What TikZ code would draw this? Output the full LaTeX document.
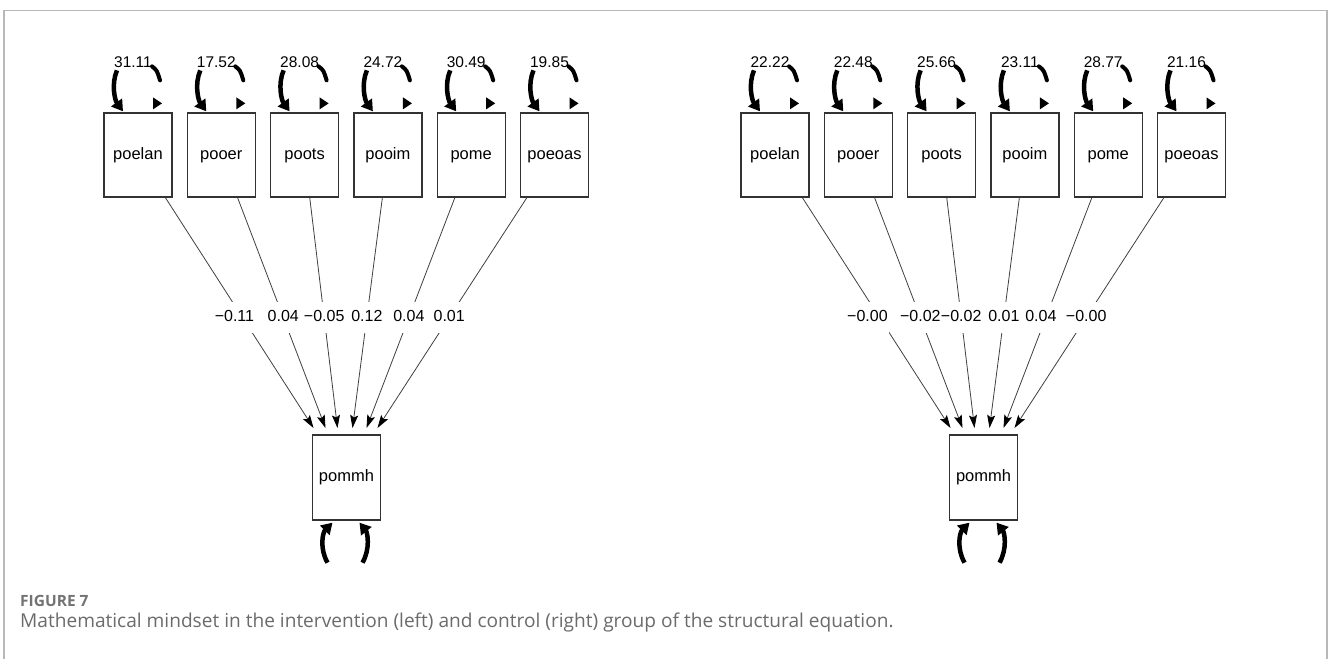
\documentclass[tikz,border=0pt]{standalone}
\usepackage{fontspec}
\setmainfont{Liberation Sans}
\newfontfamily\capfont{Open Sans}
\usetikzlibrary{arrows.meta,calc}
\tikzset{
  var/.style={draw=black!80,line width=1.3pt,minimum width=68pt,minimum height=84pt,inner sep=0pt,fill=white,text height=12pt,text depth=3.5pt,font=\fontsize{16.5}{18}\selectfont},
  semedge/.style={draw=black!75,line width=0.8pt,-{Stealth[length=13pt,width=8pt,inset=2.5pt,fill=black,black]}},
  coef/.style={fill=white,inner xsep=1pt,inner ysep=9pt,text height=11pt,text depth=2pt,font=\fontsize{16}{17}\selectfont},
  vlab/.style={inner sep=0pt,font=\fontsize{15.5}{17}\selectfont},
  loophead/.style={line width=4.5pt,-{Triangle[length=11pt,width=13pt]}},
  looparc/.style={line width=4pt,line cap=round},
}
\newcommand\semgroup[4]{%
  \node[var,minimum height=85pt,minimum width=68.5pt] (#1m) at (#3,477.5) {pommh};
  \foreach \i/\nm/\vv/\cf/\sh/\off in {#4} {
    \pgfmathsetmacro\cx{#2+83.3*(\i-1)}
    \node[var] (#1\i) at (\cx,155) {\nm};
    \coordinate (#1t\i) at (#3+\off,428);
    \draw[semedge] (#1\i) -- node[coef,pos=0.52,xshift=\sh pt] (#1c\i) {\cf} (#1t\i);
    \draw[loophead] ($(#1\i.north)+(-21,-42)$) .. controls ($(#1\i.north)+(-27,-28)$) and ($(#1\i.north)+(-23,-12)$) .. ($(#1\i.north)+(-15,-1)$);
    \draw[looparc] ($(#1\i.north)+(14,-46)$) .. controls ($(#1\i.north)+(19,-42)$) .. ($(#1\i.north)+(22,-32)$);
    \fill ($(#1\i.north)+(15,-15)$) -- ($(#1\i.north)+(15,-3)$) -- ($(#1\i.north)+(24,-9)$) -- cycle;
    \node[vlab] (#1v\i) at ($(#1\i.north)+(-5,-50)$) {\vv};
  }
  \draw[loophead] ($(#1m.south)+(-19,42)$) .. controls ($(#1m.south)+(-27,28)$) and ($(#1m.south)+(-24,12)$) .. ($(#1m.south)+(-14,2)$);
  \draw[loophead] ($(#1m.south)+(16,42)$) .. controls ($(#1m.south)+(24,28)$) and ($(#1m.south)+(21,12)$) .. ($(#1m.south)+(13,2)$);
}
\begin{document}
\begin{tikzpicture}[x=1pt,y=-1pt]
\useasboundingbox (0,0) rectangle (1328,659);
\fill[white] (0,0) rectangle (1328,659);
\draw[black!28,line width=1.5pt] (4,659) -- (4,10.5) -- (1327,10.5) -- (1327,659);
\semgroup{L}{138}{346.5}{1/poelan/31.11/−0.11/-8/-33,2/pooer/17.52/0.04/0/-21,3/poots/28.08/−0.05/0/-9,4/pooim/24.72/0.12/0/6,5/pome/30.49/0.04/0/20,6/poeoas/19.85/0.01/0/31}
\semgroup{R}{775}{983.5}{1/poelan/22.22/−0.00/-12/-33,2/pooer/22.48/−0.02/0/-21,3/poots/25.66/−0.02/0/-9,4/pooim/23.11/0.01/0/6,5/pome/28.77/0.04/-5/20,6/poeoas/21.16/−0.00/0/31}
\node[anchor=west,inner sep=0pt,text=black!55] (fig) at (20,601) {\fontsize{15.5}{17}\selectfont\capfont\bfseries FIGURE 7};
\node[anchor=west,inner sep=0pt,text=black!58] (cap) at (20,622) {\fontsize{19.1}{21}\selectfont\capfont Mathematical mindset in the intervention (left) and control (right) group of the structural equation.};
\end{tikzpicture}
\end{document}
